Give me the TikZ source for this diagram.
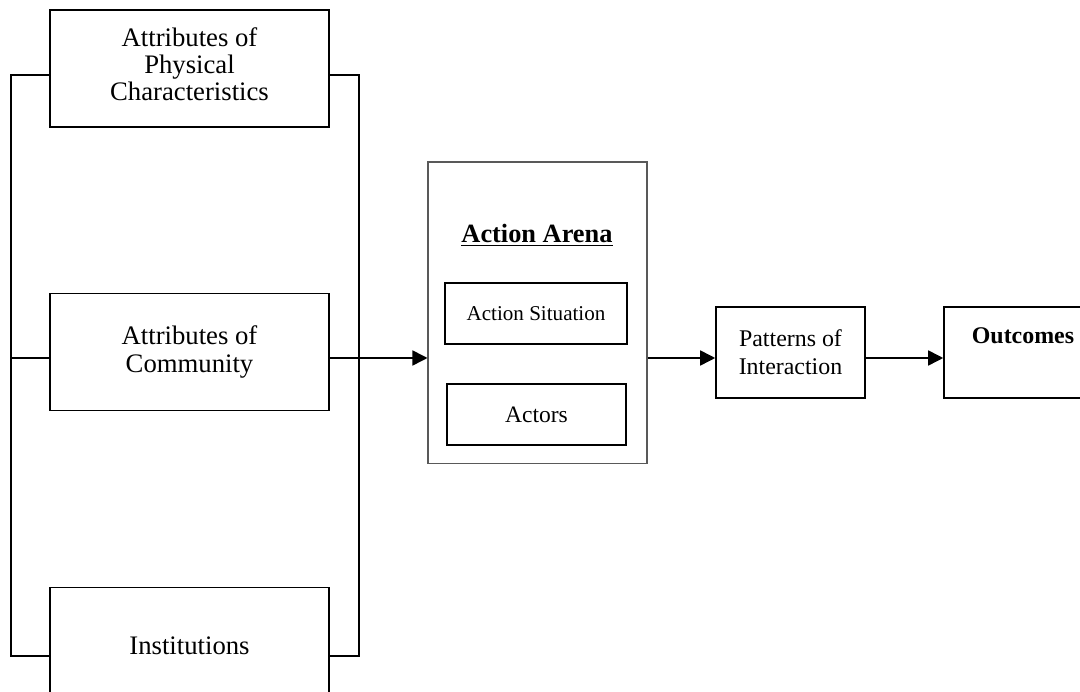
\documentclass[tikz,border=0pt]{standalone}
\usepackage{fontspec}
\setmainfont{Liberation Serif}
\usetikzlibrary{arrows.meta}
\tikzset{
 attrbox/.style={draw,line width=0.9pt,minimum width=5.58cm,minimum height=2.34cm,align=center,font=\fontsize{15.2}{15.4}\selectfont},
 innerbox/.style={draw,line width=0.9pt,minimum height=1.22cm,align=center},
 flowbox/.style={draw,line width=0.9pt,minimum height=1.82cm,align=center,font=\fontsize{13.6}{15.8}\selectfont},
 link/.style={line width=0.9pt},
 flow/.style={line width=0.9pt,-{Triangle[length=0.3cm,width=0.3cm]}}
}
\begin{document}
\begin{tikzpicture}[x=0.02cm,y=-0.02cm]
 \useasboundingbox (0,0) rectangle (1080,692);
 \clip (0,0) rectangle (1080,692);
 % left column
 \node[attrbox] (phys) at (189.5,68.5) {Attributes of\\Physical\\Characteristics\\[-10pt]\mbox{}};
 \node[attrbox] (comm) at (189.5,352) {Attributes of\\Community};
 \node[attrbox] (inst) at (189.5,646) {Institutions};
 \coordinate (lefttop) at (11,75);
 \coordinate (leftbot) at (11,656);
 \coordinate (righttop) at (359,75);
 \coordinate (rightbot) at (359,656);
 \coordinate (flowline) at (0,358);
 \draw[link] (phys.west |- lefttop) -- (lefttop) -- (leftbot) -- (inst.west |- leftbot);
 \draw[link] (phys.east |- righttop) -- (righttop) -- (rightbot) -- (inst.east |- rightbot);
 \draw[link] (comm.west |- flowline) -- (lefttop |- flowline);
 % action arena
 \node[draw,gray!70!black,line width=0.6pt,minimum width=4.38cm,minimum height=6.04cm] (arena) at (537.5,313) {};
 \node[font=\fontsize{15}{17}\selectfont\bfseries] (arenatitle) at (537,235) {\underline{Action Arena}};
 \node[innerbox,minimum width=3.64cm,font=\fontsize{12}{14}\selectfont] (situation) at (536,313.5) {Action Situation};
 \node[innerbox,minimum width=3.58cm,font=\fontsize{13.4}{15}\selectfont] (actors) at (536.5,414.5) {Actors};
 % right side
 \node[flowbox,minimum width=2.98cm] (patterns) at (790.5,352.5) {Patterns of\\Interaction};
 \node[flowbox,minimum width=3.16cm] (outcomes) at (1023,352.5) {\textbf{Outcomes}\\[4pt]\mbox{}};
 \draw[flow] (comm.east |- flowline) -- (arena.west |- flowline);
 \draw[flow] (arena.east |- flowline) -- (patterns.west |- flowline);
 \draw[flow] (patterns.east |- flowline) -- (outcomes.west |- flowline);
\end{tikzpicture}
\end{document}
